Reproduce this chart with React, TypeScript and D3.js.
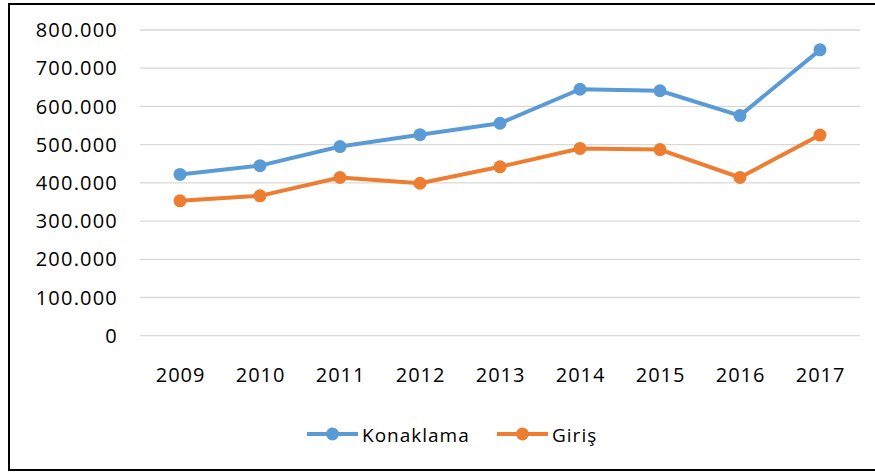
import React, { useEffect, useRef } from 'react'
import * as d3 from 'd3'

// chart data
const years = ['2009', '2010', '2011', '2012', '2013', '2014', '2015', '2016', '2017']
const konaklama = [422000, 445000, 495000, 526000, 556000, 645000, 641000, 576000, 748000]
const giris = [353000, 366000, 414000, 399000, 442000, 490000, 487000, 414000, 525000]
const yTicks = [0, 100000, 200000, 300000, 400000, 500000, 600000, 700000, 800000]
const seriesNames = ['Konaklama', 'Giriş']
const seriesColors = ['#5B9BD5', '#ED7D31']

const App = () => {
  const svgRef = useRef<SVGSVGElement>(null)

  useEffect(() => {
    const width = 875
    const height = 473
    const font = '"Open Sans", "DejaVu Sans", sans-serif'

    const svg = d3.select(svgRef.current).attr('width', width).attr('height', height)
    svg.selectAll('*').remove()

    // Turkish number format: 800.000
    const tr = d3.formatLocale({ decimal: ',', thousands: '.', grouping: [3], currency: ['', ''] })
    const fmt = tr.format(',')

    // scales
    const xScale = d3.scalePoint().domain(years).range([140, 860]).padding(0.5)
    const yScale = d3.scaleLinear().domain([0, 800000]).range([335.7, 30])

    // outer frame (right edge falls outside the picture)
    svg
      .append('rect')
      .attr('x', 9)
      .attr('y', 4)
      .attr('width', 880)
      .attr('height', 466)
      .attr('fill', 'white')
      .attr('stroke', '#000')
      .attr('stroke-width', 2)

    // gridlines
    svg
      .append('g')
      .selectAll('line')
      .data(yTicks)
      .enter()
      .append('line')
      .attr('x1', 140)
      .attr('x2', 860)
      .attr('y1', (d) => yScale(d))
      .attr('y2', (d) => yScale(d))
      .attr('stroke', '#d9d9d9')
      .attr('stroke-width', 1.3)

    // y labels
    svg
      .append('g')
      .selectAll('text')
      .data(yTicks)
      .enter()
      .append('text')
      .text((d) => fmt(d))
      .attr('x', 118)
      .attr('y', (d) => yScale(d))
      .attr('dy', '0.36em')
      .attr('text-anchor', 'end')
      .style('font-family', font)
      .style('font-size', '20px')
      .style('letter-spacing', '1.2px')
      .style('fill', '#000')

    // x labels
    svg
      .append('g')
      .selectAll('text')
      .data(years)
      .enter()
      .append('text')
      .text((d) => d)
      .attr('x', (d) => (xScale(d) as number) + 0.6)
      .attr('y', 382)
      .attr('text-anchor', 'middle')
      .style('font-family', font)
      .style('font-size', '20px')
      .style('letter-spacing', '1px')
      .style('fill', '#000')

    // lines + markers
    const allSeries = [konaklama, giris]
    const line = d3
      .line<number>()
      .x((d, i) => xScale(years[i]) as number)
      .y((d) => yScale(d))

    allSeries.forEach((values, s) => {
      svg
        .append('path')
        .datum(values)
        .attr('d', line)
        .attr('fill', 'none')
        .attr('stroke', seriesColors[s])
        .attr('stroke-width', 4)
        .attr('stroke-linejoin', 'round')
        .attr('stroke-linecap', 'round')

      svg
        .append('g')
        .selectAll('circle')
        .data(values)
        .enter()
        .append('circle')
        .attr('cx', (d, i) => xScale(years[i]) as number)
        .attr('cy', (d) => yScale(d))
        .attr('r', 6.5)
        .attr('fill', seriesColors[s])
    })

    // legend
    const legendX = [307, 497]
    const legend = svg
      .selectAll('.legend')
      .data(seriesNames)
      .enter()
      .append('g')
      .attr('class', 'legend')
      .attr('transform', (d, i) => `translate(${legendX[i]}, 434)`)

    legend
      .append('line')
      .attr('x1', 0)
      .attr('x2', 51)
      .attr('stroke', (d, i) => seriesColors[i])
      .attr('stroke-width', 4)
    legend
      .append('circle')
      .attr('cx', 25.5)
      .attr('r', 6.5)
      .attr('fill', (d, i) => seriesColors[i])
    legend
      .append('text')
      .text((d) => d)
      .attr('x', 55)
      .attr('y', 7.5)
      .style('font-family', font)
      .style('font-size', '19px')
      .style('letter-spacing', '1px')
      .style('fill', '#000')
  }, [])

  return <svg ref={svgRef} style={{ position: 'absolute', left: 0, top: 0 }}></svg>
}

export default App
